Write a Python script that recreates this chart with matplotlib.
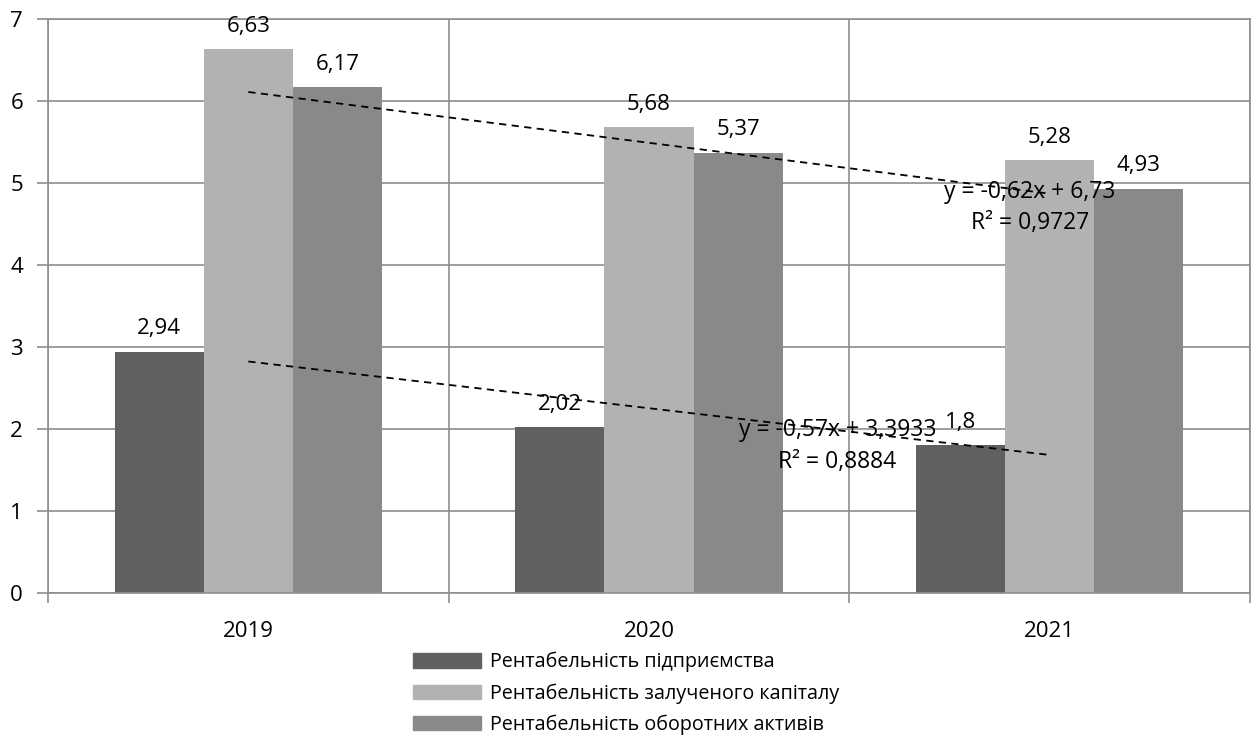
import numpy as np
import matplotlib
matplotlib.use("Agg")
import matplotlib.pyplot as plt
from matplotlib.patches import Patch

years = ["2019", "2020", "2021"]
series_names = [
    "Рентабельність підприємства",
    "Рентабельність залученого капіталу",
    "Рентабельність оборотних активів",
]
enterprise = [2.94, 2.02, 1.8]
borrowed_capital = [6.63, 5.68, 5.28]
current_assets = [6.17, 5.37, 4.93]

colors = ["#606060", "#b2b2b2", "#898989"]
grid_color = "#8e8e8e"

plt.rcParams["font.family"] = ["Open Sans", "DejaVu Sans"]
fs_num = 16
fs_trend = 16.5
fs_leg = 14.2


def fmt(v):
    return f"{v:g}".replace(".", ",")


fig = plt.figure(figsize=(12.52, 7.35), dpi=100)
ax = fig.add_axes([48 / 1252, 1 - 593 / 735, 1202 / 1252, 574 / 735])

x = np.arange(len(years))
width = 0.2225
all_series = [enterprise, borrowed_capital, current_assets]
for i, (vals, c) in enumerate(zip(all_series, colors)):
    pos = x + (i - 1) * width
    ax.bar(pos, vals, width, color=c, zorder=2)
    for p, v in zip(pos, vals):
        ax.annotate(fmt(v), (p, v), xytext=(0, 9),
                    textcoords="offset points", ha="center", va="bottom",
                    fontsize=fs_num, zorder=4)

# linear trend lines (Excel-style, x = 1..n)
xs = np.arange(1, len(years) + 1)
trend_specs = [
    (current_assets, 1.95, (4.89, 4.51)),
    (enterprise, 1.47, (1.99, 1.60)),
]
for vals, tx, (ty1, ty2) in trend_specs:
    k, b = np.polyfit(xs, vals, 1)
    r2 = np.corrcoef(xs, vals)[0, 1] ** 2
    ax.plot(x, k * xs + b, color="black", linestyle=(0, (4, 3)), linewidth=1.3, zorder=3)
    b_txt = f"{b:.4f}".rstrip("0").rstrip(".").replace(".", ",")
    eq = f"y = {k:.2f}x + {b_txt}".replace(".", ",")
    r2_txt = f"R² = {r2:.4f}".replace(".", ",")
    ax.text(tx, ty1, eq, ha="center", va="center", fontsize=fs_trend, zorder=4)
    ax.text(tx, ty2, r2_txt, ha="center", va="center", fontsize=fs_trend, zorder=4)

ax.set_xlim(-0.5, 2.5)
ax.set_ylim(0, 7)
ax.set_yticks(range(0, 8))
ax.set_xticks(x)
ax.set_xticklabels(years, fontsize=fs_num)
ax.set_xticks([-0.5, 0.5, 1.5, 2.5], minor=True)
ax.tick_params(axis="x", which="major", length=0, pad=20)
ax.tick_params(axis="x", which="minor", length=7, color=grid_color, width=1.2)
ax.tick_params(axis="y", length=8, color=grid_color, width=1.2, labelsize=fs_num, pad=10)
ax.grid(axis="y", color=grid_color, linewidth=1.2, zorder=0)
ax.grid(axis="x", which="minor", color=grid_color, linewidth=1.2, zorder=0)
ax.set_axisbelow(True)
for s in ax.spines.values():
    s.set_color(grid_color)
    s.set_linewidth(1.2)

handles = [Patch(color=c, label=n) for c, n in zip(colors, series_names)]
fig.legend(handles=handles, loc="upper left", bbox_to_anchor=(403 / 1252, 1 - 642 / 735),
           frameon=False, fontsize=fs_leg, handlelength=3.45, handleheight=0.75,
           handletextpad=0.45, labelspacing=0.55, borderpad=0)

fig.savefig("out.png", dpi=100)
